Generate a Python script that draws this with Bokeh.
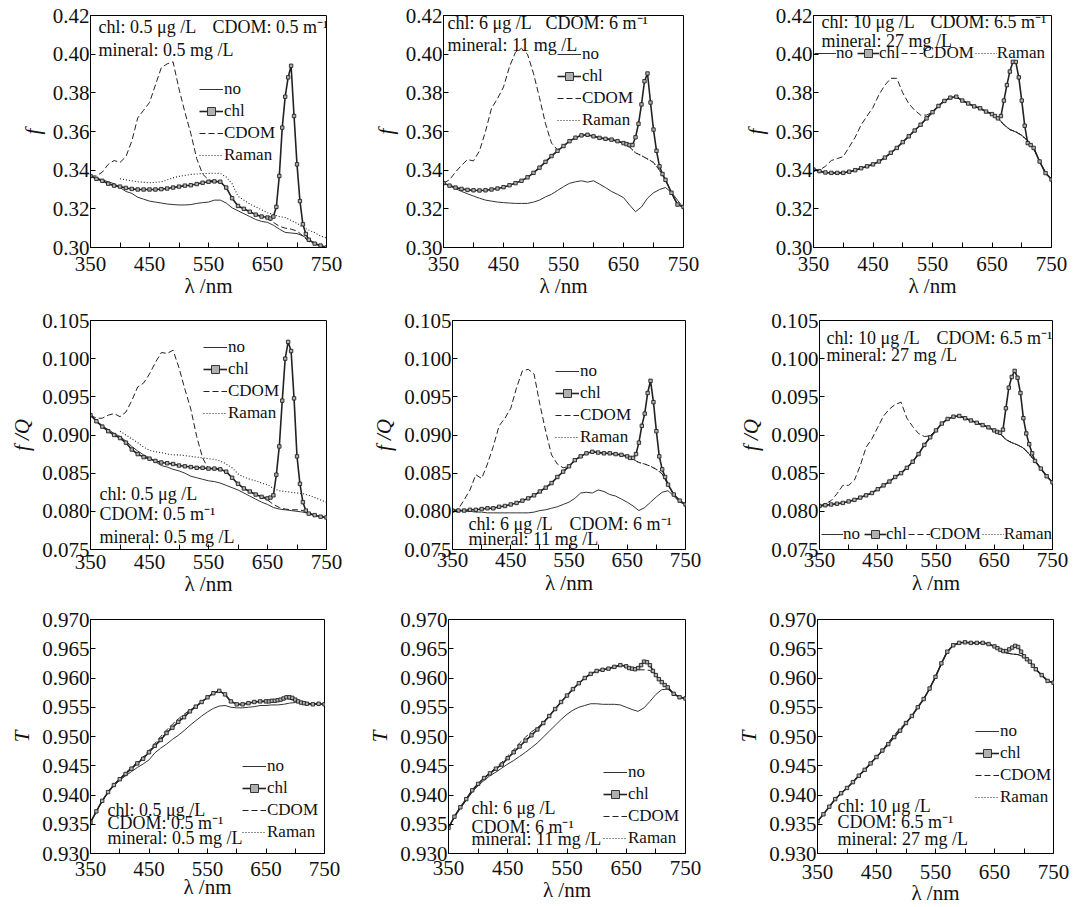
import numpy as np
from bokeh.plotting import figure
from bokeh.layouts import column, row
from bokeh.models import (Range1d, FixedTicker, NumeralTickFormatter, Legend,
                          LegendItem, Label)
from bokeh.embed import file_html
from bokeh.resources import INLINE

NAN = float("nan")

# ---------------- data ----------------
WL = list(range(350, 751, 10))                       # 41 points
WL_CHL = list(range(350, 651, 10)) + list(range(655, 721, 5)) + [730, 740, 750]  # 48 points

SERIES = ["no", "chl", "CDOM", "Raman"]
X_TICKS = [350, 450, 550, 650, 750]
X_MINOR = [400, 500, 600, 700]
Y_TICKS_F = [0.30, 0.32, 0.34, 0.36, 0.38, 0.40, 0.42]
Y_TICKS_FQ = [0.075, 0.080, 0.085, 0.090, 0.095, 0.100, 0.105]
Y_TICKS_T = [0.930, 0.935, 0.940, 0.945, 0.950, 0.955, 0.960, 0.965, 0.970]

CONC_LOW = ["chl: 0.5 μg /L", "CDOM: 0.5 m⁻¹", "mineral: 0.5 mg /L"]
CONC_MID = ["chl: 6 μg /L", "CDOM: 6 m⁻¹", "mineral: 11 mg /L"]
CONC_HIGH = ["chl: 10 μg /L", "CDOM: 6.5 m⁻¹", "mineral: 27 mg /L"]

# ---- panel 1: f, low concentration
P1_NO = [0.3370, 0.3360, 0.3350, 0.3340, 0.3330, 0.3310, 0.3290, 0.3280, 0.3260, 0.3250,
         0.3240, 0.3235, 0.3230, 0.3225, 0.3222, 0.3220, 0.3220, 0.3222, 0.3228, 0.3232,
         0.3235, 0.3245, 0.3245, 0.3230, 0.3205, 0.3190, 0.3175, 0.3160, 0.3145, 0.3135,
         0.3130, 0.3115, 0.3095, 0.3078, 0.3075, 0.3072, 0.3060, 0.3040, 0.3020, 0.3008, 0.3000]
P1_CHL = [0.3370, 0.3355, 0.3345, 0.3330, 0.3320, 0.3315, 0.3308, 0.3303, 0.3300, 0.3300,
          0.3300, 0.3300, 0.3302, 0.3305, 0.3310, 0.3315, 0.3320, 0.3322, 0.3328, 0.3335,
          0.3340, 0.3342, 0.3340, 0.3310, 0.3255, 0.3215, 0.3200, 0.3185, 0.3170, 0.3160, 0.3155,
          0.3150, 0.3160, 0.3210, 0.3370, 0.3620, 0.3780, 0.3880, 0.3940, 0.3680, 0.3430,
          0.3240, 0.3120, 0.3070, 0.3040,
          0.3020, 0.3010, 0.3000]
P1_CDOM = [0.3370, 0.3370, 0.3390, 0.3430, 0.3450, 0.3440, 0.3470, 0.3550, 0.3670, 0.3710,
           0.3750, 0.3840, 0.3930, 0.3950, 0.3960, 0.3820, 0.3700, 0.3590, 0.3460, 0.3380,
           0.3350, 0.3342, 0.3340, 0.3310, 0.3255, 0.3215, 0.3200, 0.3185, 0.3170, 0.3160,
           0.3150, 0.3130, 0.3110, 0.3100, 0.3095, 0.3085, 0.3060, 0.3030, 0.3020, 0.3010, 0.3000]
P1_RAMAN = [NAN, NAN, NAN, NAN, NAN, 0.3355, 0.3350, 0.3345, 0.3340, 0.3337,
            0.3335, 0.3337, 0.3340, 0.3350, 0.3360, 0.3368, 0.3373, 0.3378, 0.3380, 0.3383,
            0.3383, 0.3384, 0.3383, 0.3365, 0.3330, 0.3265, 0.3245, 0.3225, 0.3210, 0.3195,
            0.3180, 0.3170, 0.3160, 0.3155, 0.3140, 0.3125, 0.3105, 0.3090, 0.3077, 0.3060, 0.3050]

# ---- panel 2: f, medium concentration
P2_NO = [0.3333, 0.3320, 0.3305, 0.3290, 0.3278, 0.3266, 0.3255, 0.3245, 0.3240, 0.3235,
         0.3232, 0.3230, 0.3228, 0.3228, 0.3228, 0.3235, 0.3245, 0.3262, 0.3275, 0.3295,
         0.3315, 0.3332, 0.3340, 0.3345, 0.3338, 0.3345, 0.3328, 0.3310, 0.3290, 0.3275,
         0.3258, 0.3220, 0.3185, 0.3210, 0.3255, 0.3283, 0.3300, 0.3310, 0.3285, 0.3245, 0.3205]
P2_CHL = [0.3333, 0.3320, 0.3310, 0.3303, 0.3298, 0.3296, 0.3295, 0.3296, 0.3300, 0.3305,
          0.3312, 0.3322, 0.3333, 0.3345, 0.3363, 0.3386, 0.3413, 0.3443, 0.3473, 0.3500,
          0.3525, 0.3550, 0.3568, 0.3580, 0.3583, 0.3575, 0.3567, 0.3562, 0.3558, 0.3550, 0.3540,
          0.3535, 0.3530, 0.3530, 0.3570, 0.3640, 0.3740, 0.3860, 0.3900, 0.3750, 0.3610,
          0.3500, 0.3420, 0.3380, 0.3350,
          0.3283, 0.3222, 0.3210]
P2_CDOM = [0.3333, 0.3350, 0.3390, 0.3425, 0.3455, 0.3448, 0.3500, 0.3600, 0.3720, 0.3770,
           0.3830, 0.3935, 0.4010, 0.4030, 0.4000, 0.3900, 0.3775, 0.3640, 0.3540, 0.3505,
           0.3525, 0.3550, 0.3568, 0.3580, 0.3583, 0.3575, 0.3567, 0.3562, 0.3558, 0.3550,
           0.3540, 0.3520, 0.3490, 0.3475, 0.3458, 0.3440, 0.3400, 0.3350, 0.3283, 0.3222, 0.3210]
P2_RAMAN = [0.3333, 0.3320, 0.3310, 0.3303, 0.3298, 0.3296, 0.3295, 0.3296, 0.3300, 0.3305,
            0.3312, 0.3322, 0.3333, 0.3345, 0.3363, 0.3386, 0.3413, 0.3443, 0.3473, 0.3500,
            0.3525, 0.3550, 0.3568, 0.3580, 0.3583, 0.3575, 0.3567, 0.3562, 0.3558, 0.3550,
            0.3540, 0.3520, 0.3490, 0.3475, 0.3458, 0.3440, 0.3400, 0.3350, 0.3283, 0.3222, 0.3210]

# ---- panel 3: f, high concentration
P3_NO = [0.3403, 0.3395, 0.3388, 0.3386, 0.3386, 0.3386, 0.3392, 0.3400, 0.3410, 0.3420,
         0.3430, 0.3445, 0.3465, 0.3490, 0.3515, 0.3545, 0.3575, 0.3605, 0.3635, 0.3668,
         0.3700, 0.3732, 0.3758, 0.3775, 0.3780, 0.3760, 0.3745, 0.3730, 0.3720, 0.3703,
         0.3690, 0.3670, 0.3635, 0.3610, 0.3598, 0.3580, 0.3553, 0.3515, 0.3445, 0.3385, 0.3352]
P3_CHL = [0.3403, 0.3395, 0.3388, 0.3386, 0.3386, 0.3386, 0.3392, 0.3400, 0.3410, 0.3420,
          0.3430, 0.3445, 0.3465, 0.3490, 0.3515, 0.3545, 0.3575, 0.3605, 0.3635, 0.3668,
          0.3700, 0.3732, 0.3758, 0.3775, 0.3780, 0.3760, 0.3745, 0.3730, 0.3720, 0.3703, 0.3690,
          0.3680, 0.3668, 0.3680, 0.3760, 0.3840, 0.3910, 0.3960, 0.3960, 0.3880, 0.3760,
          0.3630, 0.3540, 0.3530, 0.3515,
          0.3445, 0.3385, 0.3352]
P3_CDOM = [0.3403, 0.3400, 0.3420, 0.3450, 0.3460, 0.3470, 0.3520, 0.3570, 0.3634, 0.3680,
           0.3725, 0.3790, 0.3840, 0.3875, 0.3875, 0.3800, 0.3745, 0.3710, 0.3685, 0.3685,
           0.3700, 0.3732, 0.3758, 0.3775, 0.3780, 0.3760, 0.3745, 0.3730, 0.3720, 0.3703,
           0.3690, 0.3670, 0.3635, 0.3610, 0.3598, 0.3580, 0.3553, 0.3515, 0.3445, 0.3385, 0.3352]
P3_RAMAN = list(P3_NO)

# ---- panel 4: f/Q, low concentration
P4_NO = [0.0926, 0.0919, 0.0912, 0.0907, 0.0902, 0.0898, 0.0892, 0.0885, 0.0879, 0.0874,
         0.0870, 0.0865, 0.0860, 0.0858, 0.0855, 0.0853, 0.0850, 0.0846, 0.0844, 0.0842,
         0.0840, 0.0839, 0.0837, 0.0834, 0.0831, 0.0828, 0.0824, 0.0820, 0.0816, 0.0812,
         0.0809, 0.0805, 0.0803, 0.0802, 0.0801, 0.0800, 0.0799, 0.0797, 0.0795, 0.0793, 0.0792]
P4_CHL = [0.0926, 0.0918, 0.0911, 0.0905, 0.0900, 0.0896, 0.0890, 0.0881, 0.0875, 0.0871,
          0.0869, 0.0866, 0.0864, 0.0863, 0.0862, 0.0860, 0.0859, 0.0858, 0.0857, 0.0857,
          0.0856, 0.0856, 0.0855, 0.0852, 0.0844, 0.0836, 0.0830, 0.0826, 0.0822, 0.0819, 0.0817,
          0.0818, 0.0821, 0.0848, 0.0885, 0.0945, 0.1000, 0.1022, 0.1010, 0.0948, 0.0872,
          0.0836, 0.0812, 0.0801, 0.0797,
          0.0795, 0.0793, 0.0792]
P4_CDOM = [0.0926, 0.0922, 0.0922, 0.0926, 0.0928, 0.0924, 0.0930, 0.0945, 0.0963, 0.0968,
           0.0980, 0.0995, 0.1008, 0.1007, 0.1011, 0.0988, 0.0960, 0.0934, 0.0898, 0.0870,
           0.0856, 0.0856, 0.0855, 0.0852, 0.0844, 0.0836, 0.0830, 0.0826, 0.0822, 0.0819,
           0.0815, 0.0809, 0.0805, 0.0803, 0.0802, 0.0802, 0.0801, 0.0798, 0.0795, 0.0793, 0.0792]
P4_RAMAN = [NAN, NAN, NAN, NAN, NAN, 0.0905, 0.0900, 0.0895, 0.0890, 0.0884,
            0.0880, 0.0878, 0.0877, 0.0875, 0.0874, 0.0874, 0.0873, 0.0872, 0.0871, 0.0870,
            0.0869, 0.0868, 0.0866, 0.0862, 0.0857, 0.0849, 0.0845, 0.0842, 0.0840, 0.0837,
            0.0835, 0.0830, 0.0827, 0.0826, 0.0825, 0.0824, 0.0823, 0.0821, 0.0818, 0.0815, 0.0812]

# ---- panel 5: f/Q, medium concentration
P5_NO = [0.0801, 0.0801, 0.0800, 0.0800, 0.0799, 0.0799, 0.0798, 0.0798, 0.0798, 0.0798,
         0.0798, 0.0798, 0.0798, 0.0798, 0.0799, 0.0801, 0.0802, 0.0804, 0.0806, 0.0809,
         0.0812, 0.0817, 0.0824, 0.0825, 0.0824, 0.0828, 0.0826, 0.0822, 0.0820, 0.0816,
         0.0812, 0.0807, 0.0801, 0.0805, 0.0812, 0.0819, 0.0825, 0.0827, 0.0820, 0.0812, 0.0809]
P5_CHL = [0.0801, 0.0801, 0.0801, 0.0802, 0.0802, 0.0803, 0.0804, 0.0804, 0.0806, 0.0807,
          0.0809, 0.0811, 0.0814, 0.0817, 0.0821, 0.0826, 0.0831, 0.0837, 0.0845, 0.0852,
          0.0859, 0.0867, 0.0872, 0.0876, 0.0878, 0.0877, 0.0876, 0.0876, 0.0875, 0.0874, 0.0872,
          0.0870, 0.0870, 0.0875, 0.0890, 0.0912, 0.0928, 0.0955, 0.0971, 0.0943, 0.0905,
          0.0872, 0.0855, 0.0845, 0.0835,
          0.0822, 0.0814, 0.0809]
P5_CDOM = [0.0801, 0.0803, 0.0815, 0.0828, 0.0848, 0.0843, 0.0862, 0.0885, 0.0912, 0.0922,
           0.0935, 0.0962, 0.0984, 0.0986, 0.0980, 0.0940, 0.0905, 0.0874, 0.0862, 0.0857,
           0.0859, 0.0867, 0.0872, 0.0876, 0.0878, 0.0877, 0.0876, 0.0876, 0.0875, 0.0874,
           0.0872, 0.0868, 0.0864, 0.0862, 0.0859, 0.0855, 0.0849, 0.0835, 0.0822, 0.0814, 0.0809]
P5_RAMAN = [0.0801, 0.0801, 0.0801, 0.0802, 0.0802, 0.0803, 0.0804, 0.0804, 0.0806, 0.0807,
            0.0809, 0.0811, 0.0814, 0.0817, 0.0821, 0.0826, 0.0831, 0.0837, 0.0845, 0.0852,
            0.0859, 0.0867, 0.0872, 0.0876, 0.0878, 0.0877, 0.0876, 0.0876, 0.0875, 0.0874,
            0.0872, 0.0868, 0.0864, 0.0862, 0.0859, 0.0855, 0.0849, 0.0835, 0.0822, 0.0814, 0.0809]

# ---- panel 6: f/Q, high concentration
P6_NO = [0.0807, 0.0808, 0.0809, 0.0810, 0.0811, 0.0813, 0.0815, 0.0818, 0.0821, 0.0824,
         0.0829, 0.0834, 0.0839, 0.0845, 0.0850, 0.0857, 0.0865, 0.0875, 0.0887, 0.0897,
         0.0906, 0.0915, 0.0921, 0.0924, 0.0925, 0.0922, 0.0919, 0.0916, 0.0913, 0.0910,
         0.0906, 0.0902, 0.0894, 0.0890, 0.0887, 0.0883, 0.0875, 0.0866, 0.0856, 0.0846, 0.0838]
P6_CHL = [0.0807, 0.0808, 0.0809, 0.0810, 0.0811, 0.0813, 0.0815, 0.0818, 0.0821, 0.0824,
          0.0829, 0.0834, 0.0839, 0.0845, 0.0850, 0.0857, 0.0865, 0.0875, 0.0887, 0.0897,
          0.0906, 0.0915, 0.0921, 0.0924, 0.0925, 0.0922, 0.0919, 0.0916, 0.0913, 0.0910, 0.0906,
          0.0904, 0.0903, 0.0907, 0.0935, 0.0962, 0.0976, 0.0984, 0.0975, 0.0955, 0.0922,
          0.0902, 0.0888, 0.0876, 0.0866,
          0.0856, 0.0846, 0.0838]
P6_CDOM = [0.0807, 0.0810, 0.0814, 0.0823, 0.0834, 0.0834, 0.0841, 0.0860, 0.0884, 0.0895,
           0.0910, 0.0925, 0.0934, 0.0940, 0.0943, 0.0922, 0.0911, 0.0902, 0.0898, 0.0899,
           0.0906, 0.0915, 0.0921, 0.0924, 0.0925, 0.0922, 0.0919, 0.0916, 0.0913, 0.0910,
           0.0906, 0.0902, 0.0894, 0.0890, 0.0887, 0.0883, 0.0875, 0.0866, 0.0856, 0.0846, 0.0838]
P6_RAMAN = list(P6_NO)

# ---- panel 7: T, low concentration
P7_NO = [0.9353, 0.9372, 0.9390, 0.9404, 0.9416, 0.9425, 0.9433, 0.9440, 0.9447, 0.9453,
         0.9460, 0.9472, 0.9480, 0.9487, 0.9495, 0.9502, 0.9510, 0.9519, 0.9527, 0.9535,
         0.9542, 0.9548, 0.9552, 0.9553, 0.9550, 0.9549, 0.9549, 0.9550, 0.9551, 0.9553,
         0.9553, 0.9554, 0.9554, 0.9555, 0.9557, 0.9558, 0.9558, 0.9557, 0.9556, 0.9556, 0.9555]
P7_CHL = [0.9353, 0.9372, 0.9390, 0.9405, 0.9417, 0.9427, 0.9436, 0.9445, 0.9454, 0.9462,
          0.9473, 0.9484, 0.9494, 0.9506, 0.9515, 0.9525, 0.9533, 0.9543, 0.9551, 0.9559,
          0.9567, 0.9574, 0.9578, 0.9572, 0.9560, 0.9555, 0.9555, 0.9557, 0.9559, 0.9560, 0.9560,
          0.9560, 0.9561, 0.9561, 0.9562, 0.9563, 0.9565, 0.9567, 0.9567, 0.9566, 0.9563,
          0.9560, 0.9558, 0.9557, 0.9556,
          0.9555, 0.9556, 0.9555]
P7_CDOM = [0.9353, 0.9372, 0.9390, 0.9405, 0.9418, 0.9428, 0.9438, 0.9447, 0.9456, 0.9465,
           0.9476, 0.9488, 0.9500, 0.9511, 0.9521, 0.9530, 0.9538, 0.9545, 0.9552, 0.9559,
           0.9567, 0.9574, 0.9578, 0.9572, 0.9560, 0.9555, 0.9555, 0.9557, 0.9559, 0.9560,
           0.9560, 0.9561, 0.9562, 0.9563, 0.9564, 0.9561, 0.9558, 0.9556, 0.9555, 0.9556, 0.9555]
P7_RAMAN = [0.9353, 0.9372, 0.9390, 0.9405, 0.9417, 0.9427, 0.9437, 0.9446, 0.9455, 0.9463,
            0.9474, 0.9486, 0.9497, 0.9508, 0.9517, 0.9527, 0.9536, 0.9544, 0.9551, 0.9559,
            0.9567, 0.9574, 0.9578, 0.9572, 0.9560, 0.9555, 0.9555, 0.9557, 0.9559, 0.9560,
            0.9560, 0.9561, 0.9562, 0.9565, 0.9567, 0.9563, 0.9558, 0.9556, 0.9555, 0.9556, 0.9555]

# ---- panel 8: T, medium concentration
P8_NO = [0.9344, 0.9362, 0.9377, 0.9391, 0.9405, 0.9416, 0.9425, 0.9433, 0.9439, 0.9446,
         0.9453, 0.9459, 0.9466, 0.9473, 0.9481, 0.9489, 0.9499, 0.9509, 0.9519, 0.9529,
         0.9538, 0.9545, 0.9550, 0.9553, 0.9556, 0.9556, 0.9555, 0.9555, 0.9555, 0.9554,
         0.9550, 0.9546, 0.9543, 0.9549, 0.9560, 0.9572, 0.9580, 0.9581, 0.9573, 0.9567, 0.9565]
P8_CHL = [0.9344, 0.9363, 0.9379, 0.9393, 0.9408, 0.9419, 0.9429, 0.9437, 0.9445, 0.9452,
          0.9463, 0.9473, 0.9483, 0.9493, 0.9502, 0.9512, 0.9523, 0.9535, 0.9547, 0.9559,
          0.9570, 0.9581, 0.9591, 0.9600, 0.9607, 0.9612, 0.9614, 0.9616, 0.9619, 0.9622, 0.9620,
          0.9617, 0.9616, 0.9615, 0.9617, 0.9622, 0.9628, 0.9627, 0.9622, 0.9612, 0.9605,
          0.9598, 0.9593, 0.9588, 0.9584,
          0.9573, 0.9567, 0.9565]
P8_CDOM = [0.9344, 0.9363, 0.9379, 0.9393, 0.9408, 0.9419, 0.9429, 0.9438, 0.9447, 0.9456,
           0.9467, 0.9477, 0.9489, 0.9499, 0.9508, 0.9515, 0.9524, 0.9535, 0.9547, 0.9559,
           0.9570, 0.9581, 0.9591, 0.9600, 0.9607, 0.9612, 0.9614, 0.9616, 0.9619, 0.9622,
           0.9620, 0.9616, 0.9614, 0.9614, 0.9613, 0.9604, 0.9593, 0.9584, 0.9573, 0.9567, 0.9565]
P8_RAMAN = [0.9344, 0.9363, 0.9379, 0.9393, 0.9408, 0.9419, 0.9429, 0.9437, 0.9445, 0.9452,
            0.9463, 0.9473, 0.9483, 0.9493, 0.9502, 0.9512, 0.9523, 0.9535, 0.9547, 0.9559,
            0.9570, 0.9581, 0.9591, 0.9600, 0.9607, 0.9612, 0.9614, 0.9616, 0.9619, 0.9622,
            0.9620, 0.9616, 0.9617, 0.9626, 0.9623, 0.9605, 0.9593, 0.9584, 0.9573, 0.9567, 0.9565]

# ---- panel 9: T, high concentration
P9_NO = [0.9355, 0.9367, 0.9380, 0.9393, 0.9403, 0.9412, 0.9422, 0.9433, 0.9443, 0.9454,
         0.9465, 0.9476, 0.9487, 0.9499, 0.9510, 0.9523, 0.9535, 0.9550, 0.9564, 0.9582,
         0.9602, 0.9625, 0.9645, 0.9656, 0.9660, 0.9661, 0.9660, 0.9660, 0.9660, 0.9658,
         0.9654, 0.9648, 0.9643, 0.9641, 0.9640, 0.9636, 0.9628, 0.9615, 0.9605, 0.9595, 0.9592]
P9_CHL = [0.9355, 0.9367, 0.9380, 0.9393, 0.9403, 0.9412, 0.9422, 0.9433, 0.9443, 0.9454,
          0.9465, 0.9476, 0.9487, 0.9499, 0.9510, 0.9523, 0.9535, 0.9550, 0.9564, 0.9582,
          0.9602, 0.9625, 0.9645, 0.9656, 0.9660, 0.9661, 0.9660, 0.9660, 0.9660, 0.9658, 0.9654,
          0.9651, 0.9648, 0.9646, 0.9646, 0.9649, 0.9652, 0.9655, 0.9653, 0.9645, 0.9637,
          0.9632, 0.9628, 0.9621, 0.9615,
          0.9605, 0.9595, 0.9592]
P9_CDOM = [0.9355, 0.9367, 0.9380, 0.9393, 0.9403, 0.9412, 0.9422, 0.9433, 0.9443, 0.9454,
           0.9465, 0.9476, 0.9490, 0.9502, 0.9514, 0.9523, 0.9535, 0.9550, 0.9564, 0.9582,
           0.9602, 0.9625, 0.9645, 0.9656, 0.9660, 0.9661, 0.9660, 0.9660, 0.9660, 0.9658,
           0.9654, 0.9648, 0.9643, 0.9641, 0.9640, 0.9636, 0.9628, 0.9615, 0.9605, 0.9595, 0.9592]
P9_RAMAN = list(P9_NO)

# ---------------- layout / style ----------------
FONT = "Liberation Serif"
INK = "#222222"

PANELS = [
    dict(d=(P1_NO, P1_CHL, P1_CDOM, P1_RAMAN), yt=Y_TICKS_F, yr=(0.30, 0.42), fmt="0.00", yl="f",
         conc=CONC_LOW, txt=[(0, 98, 27), (1, 212, 27), (2, 98, 50)],
         leg=("vertical", 199, 90), geo=(365, 300, 90, 39, 15, 52), so=(9, 0),
         ref=(90, 326, 15, 248)),
    dict(d=(P2_NO, P2_CHL, P2_CDOM, P2_RAMAN), yt=Y_TICKS_F, yr=(0.30, 0.42), fmt="0.00", yl="f",
         conc=CONC_MID, txt=[(0, 447, 23), (1, 545, 23), (2, 447, 45)],
         leg=("vertical", 557, 55), geo=(365, 300, 78, 47, 15, 52), so=(9, 0),
         ref=(443, 683, 15, 248)),
    dict(d=(P3_NO, P3_CHL, P3_CDOM, P3_RAMAN), yt=Y_TICKS_F, yr=(0.30, 0.42), fmt="0.00", yl="f",
         conc=CONC_HIGH, txt=[(0, 821, 22), (1, 930, 22), (2, 821, 41)],
         leg=("horizontal", 814, 54), geo=(349, 300, 83, 28, 15, 52), so=(9, 0),
         ref=(813, 1051, 15, 248)),
    dict(d=(P4_NO, P4_CHL, P4_CDOM, P4_RAMAN), yt=Y_TICKS_FQ, yr=(0.075, 0.105), fmt="0.000", yl="f /Q",
         conc=CONC_LOW, txt=[(0, 99, 493), (1, 99, 513), (2, 99, 536)],
         leg=("vertical", 203, 347), geo=(365, 300, 90, 39, 20, 51), so=(5, 0),
         ref=(90, 326, 320, 549)),
    dict(d=(P5_NO, P5_CHL, P5_CDOM, P5_RAMAN), yt=Y_TICKS_FQ, yr=(0.075, 0.105), fmt="0.000", yl="f /Q",
         conc=CONC_MID, txt=[(0, 468, 528), (1, 569, 528), (2, 468, 543)],
         leg=("vertical", 555, 376), geo=(365, 300, 87, 45, 17, 46), so=(3, 1),
         ref=(452, 685, 317, 554)),
    dict(d=(P6_NO, P6_CHL, P6_CDOM, P6_RAMAN), yt=Y_TICKS_FQ, yr=(0.075, 0.105), fmt="0.000", yl="f /Q",
         conc=CONC_HIGH, txt=[(0, 826, 335), (1, 936, 335), (2, 826, 353)],
         leg=("horizontal", 821, 540), geo=(349, 300, 89, 27, 17, 45), so=(3, 1),
         ref=(819, 1052, 317, 555)),
    dict(d=(P7_NO, P7_CHL, P7_CDOM, P7_RAMAN), yt=Y_TICKS_T, yr=(0.930, 0.970), fmt="0.000", yl="T",
         conc=CONC_LOW, txt=[(0, 107, 818), (1, 107, 832), (2, 107, 848)],
         leg=("vertical", 242, 777), geo=(365, 307, 90, 41, 15, 43), so=(8, -4),
         ref=(90, 324, 615, 864)),
    dict(d=(P8_NO, P8_CHL, P8_CDOM, P8_RAMAN), yt=Y_TICKS_T, yr=(0.930, 0.970), fmt="0.000", yl="T",
         conc=CONC_MID, txt=[(0, 470, 811), (1, 470, 830), (2, 470, 843)],
         leg=("vertical", 602, 777), geo=(365, 307, 82, 45, 15, 49), so=(7, 0),
         ref=(447, 685, 615, 858)),
    dict(d=(P9_NO, P9_CHL, P9_CDOM, P9_RAMAN), yt=Y_TICKS_T, yr=(0.930, 0.970), fmt="0.000", yl="T",
         conc=CONC_HIGH, txt=[(0, 837, 807), (1, 837, 823), (2, 837, 840)],
         leg=("vertical", 975, 733), geo=(349, 307, 87, 26, 19, 52), so=(11, -1),
         ref=(817, 1053, 619, 855)),
]


def ref_to_data(ref, yr, px, py):
    l, r, t, b = ref
    xd = 350 + (px - l) / (r - l) * 400
    yd = yr[0] + (b - py) / (b - t) * (yr[1] - yr[0])
    return xd, yd


def make_panel(s):
    w, h, bl, br, bt, bb = s["geo"]
    y0, y1 = s["yr"]
    p = figure(width=w, height=h, min_border_left=bl, min_border_right=br,
               min_border_top=bt, min_border_bottom=bb,
               x_range=Range1d(350, 750), y_range=Range1d(y0, y1),
               output_backend="svg", toolbar_location=None, tools="")
    p.xgrid.visible = False
    p.ygrid.visible = False
    p.background_fill_color = "white"
    p.border_fill_color = "white"
    p.outline_line_color = "black"
    p.outline_line_alpha = 1.0
    p.outline_line_width = 1

    p.xaxis.ticker = FixedTicker(ticks=X_TICKS, minor_ticks=X_MINOR)
    p.yaxis.ticker = FixedTicker(ticks=s["yt"])
    p.yaxis.formatter = NumeralTickFormatter(format=s["fmt"])
    for ax in (p.xaxis[0], p.yaxis[0]):
        ax.axis_line_color = "black"
        ax.major_tick_line_color = "black"
        ax.minor_tick_line_color = "black"
        ax.major_tick_in = 5
        ax.major_tick_out = 0
        ax.minor_tick_in = 5
        ax.minor_tick_out = 0
        ax.major_label_text_font = FONT
        ax.major_label_text_font_size = "21px"
        ax.major_label_text_color = "#111111"
        ax.axis_label_text_font = FONT
        ax.axis_label_text_font_size = "21px"
        ax.axis_label_text_color = "#111111"
    p.yaxis.minor_tick_line_color = None
    ts, ls = s["so"]
    p.xaxis.major_label_standoff = ts
    p.xaxis.axis_label = "λ /nm"
    p.xaxis.axis_label_text_font_style = "normal"
    p.xaxis.axis_label_standoff = ls
    p.yaxis.major_label_standoff = 1
    p.yaxis.axis_label = s["yl"]
    p.yaxis.axis_label_text_font_style = "italic"
    p.yaxis.axis_label_standoff = 5

    no, chl, cdom, raman = [np.asarray(a, dtype=float) for a in s["d"]]
    wl = np.asarray(WL, dtype=float)
    wlc = np.asarray(WL_CHL, dtype=float)
    r_no = p.line(wl, no, line_color="#333333", line_width=1)
    r_ram = p.line(wl, raman, line_color=INK, line_width=1.1, line_dash="1 2")
    r_cd = p.line(wl, cdom, line_color=INK, line_width=1, line_dash="6 3")
    r_chl = p.line(wlc, chl, line_color=INK, line_width=1.6)
    r_chm = p.scatter(wlc, chl, marker="square", size=3.4, line_color=INK,
                      fill_color="#b0b0b0", line_width=0.9)

    for idx, px, py in s["txt"]:
        xd, yd = ref_to_data(s["ref"], s["yr"], px, py)
        p.add_layout(Label(x=xd, y=yd, text=s["conc"][idx], text_font=FONT,
                           text_font_size="18px", text_color="#111111",
                           text_baseline="middle", text_align="left"))

    orient, lx, ly = s["leg"]
    hf = h - bt - bb
    n_items = 4
    item_h = 20
    spacing = 2 if orient == "vertical" else 1
    leg_h = n_items * item_h + (n_items - 1) * spacing if orient == "vertical" else item_h
    _, ytop = ref_to_data(s["ref"], s["yr"], lx, ly - item_h / 2)
    top_from_bottom = (ytop - y0) / (y1 - y0) * hf
    loc = (lx - s["ref"][0], top_from_bottom - leg_h)
    items = [LegendItem(label=SERIES[0], renderers=[r_no]),
             LegendItem(label=SERIES[1], renderers=[r_chl, r_chm]),
             LegendItem(label=SERIES[2], renderers=[r_cd]),
             LegendItem(label=SERIES[3], renderers=[r_ram])]
    leg = Legend(items=items, location=loc, orientation=orient, padding=0, margin=0,
                 spacing=spacing, glyph_width=24 if orient == "vertical" else 22,
                 glyph_height=item_h, label_height=item_h,
                 label_standoff=1 if orient == "vertical" else 0,
                 label_text_font=FONT, label_text_font_size="17px",
                 label_text_color="#111111",
                 border_line_alpha=0, background_fill_alpha=0)
    p.add_layout(leg)
    return p


figs = [make_panel(s) for s in PANELS]
layout = column(row(*figs[0:3]), row(*figs[3:6]), row(*figs[6:9]))

with open("out.html", "w") as fh:
    fh.write(file_html(layout, INLINE))
